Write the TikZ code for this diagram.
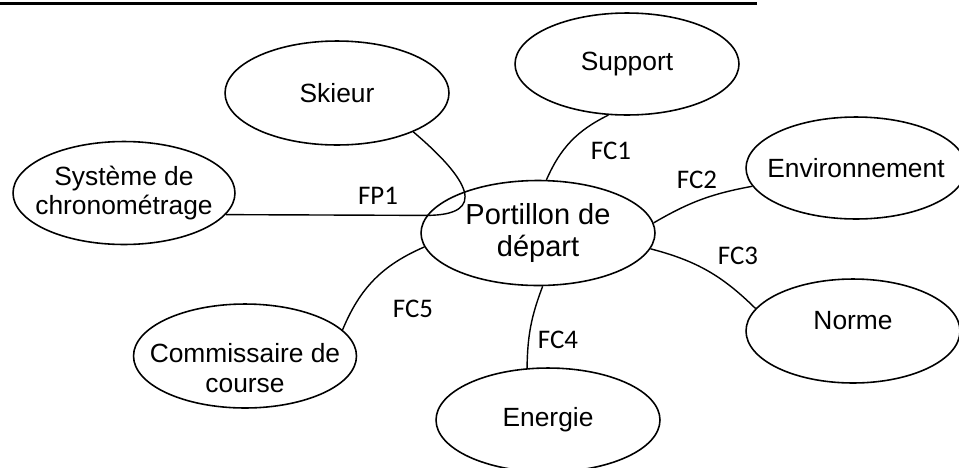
\documentclass[tikz,border=0pt]{standalone}
\usepackage{fontspec}
\setmainfont{Liberation Sans}
\newfontfamily\fcfont{Carlito}
\usetikzlibrary{shapes.geometric}

\tikzset{
  bulle/.style={draw, ellipse, line width=0.9pt, inner sep=0pt, minimum width=4.48cm, minimum height=2.08cm},
  txt/.style={font=\fontsize{15}{17}\selectfont, align=center, inner sep=0pt},
  fc/.style={font=\fcfont\fontsize{15.3}{16}\selectfont, inner sep=0pt},
  lien/.style={draw, line width=0.8pt}
}

\begin{document}
\begin{tikzpicture}[x=0.02cm, y=-0.02cm]
\useasboundingbox (0,0) rectangle (959,467);
\clip (0,0) rectangle (959,467);

\draw[line width=1.7pt] (0,3.5) -- (757,3.5);

\node[bulle, label={[txt]center:Skieur}] (skieur) at (337,93) {};
\node[bulle, minimum height=2.04cm, label={[txt]center:Support}] (support) at (627,64) {};
\node[bulle, minimum width=4.44cm, minimum height=2.06cm, label={[txt]center:{Système de\\chronométrage}}] (systeme) at (124,193) {};
\node[bulle, minimum width=4.68cm, minimum height=2.1cm, label={[txt, font=\fontsize{16.5}{18}\selectfont]center:{Portillon de\\départ}}] (portillon) at (538,233) {};
\node[bulle, minimum width=4.4cm, minimum height=2.04cm, label={[txt]center:Environnement}] (environnement) at (856,168) {};
\node[bulle, minimum width=4.28cm, label={[txt, yshift=6pt]center:Norme}] (norme) at (853,331) {};
\node[bulle, label={[txt]center:Energie}] (energie) at (548,420) {};
\node[bulle, minimum width=4.46cm, label={[txt, yshift=-7pt]center:{Commissaire de\\course}}] (commissaire) at (245,356) {};

\node[fc] (fp1) at (378,196) {FP1};
\node[fc] (fc1) at (611,151) {FC1};
\node[fc] (fc2) at (697,180) {FC2};
\node[fc] (fc3) at (738,256) {FC3};
\node[fc] (fc4) at (558,340) {FC4};
\node[fc] (fc5) at (413,309) {FC5};

\path[lien] (skieur.-27) .. controls (470,180) and (488,215) .. (portillon.171) -- (systeme.-12);
\path[lien] (portillon.81) to[bend left=20] (support.-110);
\path[lien] (portillon.5) to[bend left=10] (environnement.190);
\path[lien] (portillon.-8) to[bend left=15] (norme.167.5);
\path[lien] (portillon.-85) to[bend right=10] (energie.112);
\path[lien] (portillon.187) to[bend right=22] (commissaire.15);
\end{tikzpicture}
\end{document}
